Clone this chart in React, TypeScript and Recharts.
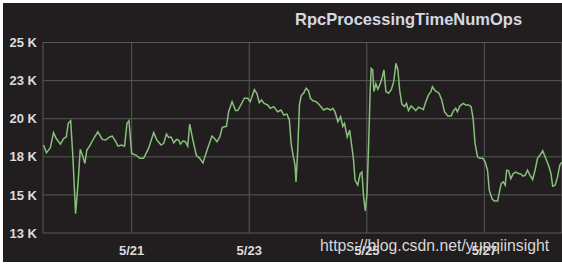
import { LineChart, Line, XAxis, YAxis, CartesianGrid } from 'recharts';

// hours since 5/19 00:00
const hours = [
  12.0, 13.2, 14.8, 16.1, 17.2, 18.9, 20.2, 21.3, 22.1, 23.1, 24.0, 25.1, 26.2, 27.0, 28.1, 28.9, 29.7,
  30.8, 32.5, 34.2, 36.0, 37.4, 39.0, 40.1, 41.5, 42.4, 43.8, 45.1, 46.1, 46.9, 48.0, 49.9, 51.3, 52.9,
  54.9, 57.0, 58.3, 60.0, 61.1, 62.2, 63.1, 64.1, 65.2, 66.3, 67.2, 67.9, 69.0, 69.9, 70.9, 71.7, 73.0,
  74.4, 75.8, 77.1, 79.0, 80.8, 81.8, 82.8, 84.0, 85.0, 86.7, 87.6, 89.0, 90.4, 91.3, 92.6, 94.0, 95.4, 96.4,
  98.1, 99.1, 100.1, 101.0, 102.1, 103.5, 104.6, 106.0, 107.6, 109.0, 110.1, 111.4, 112.4, 113.1, 113.9,
  114.7, 115.1, 115.8, 116.5, 117.2, 118.3, 119.2, 120.2, 121.0, 122.0, 123.3, 124.3, 125.3, 126.4, 127.8,
  129.2, 130.1, 131.0, 132.2, 133.3, 134.2, 134.9, 136.0, 137.0, 137.9,
  138.6, 139.2, 140.3, 141.3, 142.0, 142.7, 143.4, 144.1, 144.8, 145.4, 145.8, 146.4, 146.9, 147.7, 148.5,
  149.5, 150.2, 151.0, 151.8, 152.9, 154.0, 155.0, 155.9, 156.7, 157.4, 158.3, 159.4, 160.2, 161.0, 162.1,
  163.1, 164.0, 165.1, 166.2, 167.1, 168.1, 169.2, 170.2, 170.8, 171.9, 173.5, 174.6, 175.7, 177.1, 178.4,
  179.4, 180.3,
  181.0, 182.0, 183.3, 184.4, 185.5, 186.6, 187.4, 188.2, 189.2, 190.2, 191.3, 192.3, 193.3, 194.0, 195.1,
  196.0, 197.4, 198.0, 198.9, 199.7, 200.5, 201.1, 201.9, 202.8, 203.8, 204.9, 206.0, 207.0, 207.8, 208.7,
  209.6, 210.6, 211.7, 212.7, 213.7, 214.7, 215.8, 216.8, 218.2, 219.2, 219.9, 220.9, 221.9, 222.8, 223.7,
];

// RpcProcessingTimeNumOps, in thousands
const opsK = [
  18.27, 17.76, 18.1, 19.08, 18.7, 18.33, 18.7, 18.8, 19.7, 19.87, 17.5, 13.77, 15.97, 18.0, 17.5, 17.06, 17.94,
  18.2, 18.7, 19.14, 18.64, 18.6, 18.8, 18.86, 18.49, 18.2, 18.27, 18.2, 19.7, 19.87, 17.72, 17.6, 17.4, 17.4,
  18.05, 19.08, 18.6, 18.27, 18.38, 18.99, 18.77, 18.8, 18.42, 18.64, 18.6, 18.33, 18.55, 18.49, 18.2, 19.65, 18.6,
  17.6, 17.4, 17.1, 18.05, 18.86, 18.7, 18.49, 18.8, 19.43, 19.5, 20.46, 21.12, 20.53, 20.53, 20.9, 21.34, 21.34, 21.12,
  21.9, 21.67, 21.05, 21.23, 21.0, 20.9, 20.68, 20.79, 20.46, 20.57, 20.24, 20.3, 19.9, 18.38, 17.6,
  16.95, 15.85, 17.94, 20.9, 21.5, 21.7, 22.0, 21.84, 21.34, 21.18, 21.12, 20.96, 20.79, 20.57, 20.68,
  20.57, 20.68, 20.46, 19.8, 20.13, 19.5, 19.7, 18.8, 19.25, 18.16,
  17.28, 15.97, 15.64, 16.4, 16.5, 14.87, 13.95, 15.09, 18.6, 21.9, 23.3, 23.2, 21.78, 22.3, 21.93,
  22.3, 22.65, 23.2, 21.78, 21.67, 21.9, 22.43, 23.64, 23.2, 21.9, 20.96, 20.79, 21.0, 20.53, 20.83,
  20.68, 20.53, 20.75, 20.68, 20.6, 21.12, 21.56, 21.78, 22.1, 21.84, 21.67, 21.23, 20.46, 20.18, 20.18,
  20.53, 20.68,
  20.46, 20.83, 21.0, 20.9, 20.9, 20.79, 20.02, 18.38, 17.5, 17.4, 17.4, 17.17, 16.62, 15.31, 14.76,
  14.6, 14.6, 15.09, 15.75, 15.86, 15.64, 16.62, 16.58, 16.07, 16.4, 16.5, 16.4, 16.36, 16.23, 16.3,
  16.62, 16.3, 16.01, 16.62, 17.4, 17.6, 17.9, 17.5, 16.95, 16.4, 15.57, 15.64, 16.18, 16.95, 17.17,
];

const dayTicks = [48, 96, 144, 192];
const dayLabels = ['5/21', '5/23', '5/25', '5/27'];
const valueTicks = [12.5, 15, 17.5, 20, 22.5, 25];

const data = hours.map((h, i) => ({ h, ops: opsK[i] }));

const tickStyle = { fill: '#dcdcdc', fontSize: 13, fontWeight: 'bold' as const };

export default function App() {
  return (
    <div
      style={{
        position: 'fixed',
        left: 0,
        top: 0,
        width: 562,
        height: 265,
        background: '#fff',
        fontFamily: '"Liberation Sans", Arial, sans-serif',
        overflow: 'hidden',
      }}
    >
      <div style={{ position: 'absolute', left: 3, top: 3, right: 0, bottom: 3, background: '#221e1f' }} />
      <div style={{ position: 'absolute', left: 0, top: 0 }}>
        <LineChart width={562} height={265} data={data} margin={{ top: 42.5, right: 0, bottom: 0, left: 0 }}>
          <CartesianGrid stroke="#585858" strokeWidth={1} />
          <XAxis
            dataKey="h"
            type="number"
            domain={[11.8, 223.7]}
            ticks={dayTicks}
            tickFormatter={(v) => dayLabels[dayTicks.indexOf(v)] ?? ''}
            axisLine={false}
            tickLine={false}
            tickSize={6}
            tickMargin={7}
            height={32}
            tick={tickStyle}
          />
          <YAxis
            type="number"
            domain={[12.5, 25]}
            ticks={valueTicks}
            tickFormatter={(v) => `${Math.round(v)} K`}
            axisLine={false}
            tickLine={false}
            tickSize={4}
            tickMargin={2}
            width={43}
            tick={tickStyle}
          />
          <Line
            type="linear"
            dataKey="ops"
            stroke="#87c07a"
            strokeWidth={1.5}
            dot={false}
            isAnimationActive={false}
          />
        </LineChart>
      </div>
      <div
        style={{
          position: 'absolute',
          left: 295,
          top: 11,
          fontSize: 16.5,
          lineHeight: 1,
          fontWeight: 'bold',
          color: '#d3d8e3',
          whiteSpace: 'nowrap',
        }}
      >
        RpcProcessingTimeNumOps
      </div>
      <div
        style={{
          position: 'absolute',
          left: 320,
          top: 237.6,
          fontSize: 15.8,
          lineHeight: 1,
          color: '#d6d6d6',
          whiteSpace: 'nowrap',
        }}
      >
        https://blog.csdn.net/yunqiinsight
      </div>
    </div>
  );
}
